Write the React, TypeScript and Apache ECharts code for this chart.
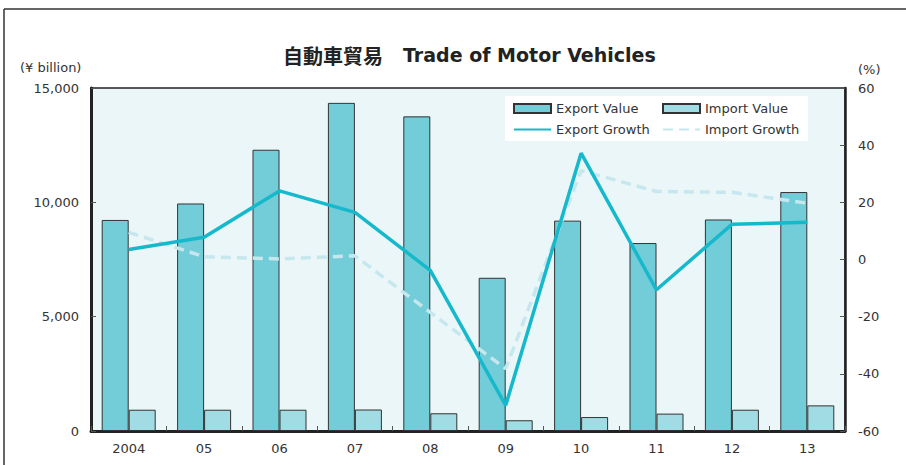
import React, { useEffect, useRef } from "react";
import * as echarts from "echarts";

const categories = ["2004", "05", "06", "07", "08", "09", "10", "11", "12", "13"];
const exportValue = [9230, 9950, 12300, 14350, 13760, 6700, 9200, 8220, 9250, 10450];
const importValue = [930, 930, 930, 940, 775, 470, 610, 760, 930, 1120];
const exportGrowth = [3.5, 7.8, 24.0, 16.5, -3.8, -51.0, 37.2, -10.6, 12.3, 13.0];
const importGrowth = [9.5, 1.0, 0.2, 1.3, -18.5, -38.2, 31.1, 23.8, 23.5, 19.7];
const leftTicks = { min: 0, max: 15000, interval: 5000 };
const rightTicks = { min: -60, max: 60, interval: 20 };

const FONT = "DejaVu Sans";
const TXT = "#333333";

export default function App() {
  const ref = useRef<HTMLDivElement>(null);
  useEffect(() => {
    if (!ref.current) return;
    const chart = echarts.init(ref.current, null, { renderer: "svg" });
    const legendCommon = {
      orient: "vertical",
      itemWidth: 37,
      itemHeight: 9,
      itemGap: 8,
      top: 97,
      z: 5,
      textStyle: { fontSize: 13, color: TXT, fontFamily: FONT },
    };
    const hiddenSymbol = { itemStyle: { opacity: 0 } };
    chart.setOption({
      animation: false,
      textStyle: { fontFamily: FONT },
      title: {
        text: "{a|自動車貿易　}{b|Trade of Motor Vehicles}",
        left: 278,
        top: 40,
        textStyle: {
          rich: {
            a: { fontSize: 20, fontWeight: "bold", color: "#222", fontFamily: "Noto Sans CJK JP" },
            b: { fontSize: 19, fontWeight: "bold", color: "#222", fontFamily: FONT },
          },
        },
      },
      graphic: [
        { type: "line", shape: { x1: 4, y1: 9, x2: 906, y2: 9 }, style: { stroke: "#333", lineWidth: 1.5 } },
        { type: "line", shape: { x1: 4, y1: 9, x2: 4, y2: 465 }, style: { stroke: "#333", lineWidth: 1.5 } },
        { type: "rect", z: 3, shape: { x: 505, y: 96, width: 303, height: 45 }, style: { fill: "#ffffff" } },
        { type: "text", left: 20, top: 61, style: { text: "(¥ billion)", fontSize: 13, fill: TXT, fontFamily: FONT } },
        { type: "text", left: 858, top: 63, style: { text: "(%)", fontSize: 13, fill: TXT, fontFamily: FONT } },
      ],
      legend: [
        {
          ...legendCommon,
          left: 508,
          data: [{ name: "Export Value", icon: "rect" }, { name: "Export Growth", ...hiddenSymbol }],
        },
        {
          ...legendCommon,
          left: 657,
          data: [{ name: "Import Value", icon: "rect" }, { name: "Import Growth", ...hiddenSymbol }],
        },
      ],
      grid: {
        left: 91,
        right: 61,
        top: 88,
        bottom: 34,
        show: true,
        backgroundColor: "#EBF6F8",
        borderColor: "#222",
        borderWidth: 1.5,
      },
      xAxis: {
        type: "category",
        data: categories,
        boundaryGap: true,
        axisLine: { show: true, lineStyle: { color: "#222", width: 3 } },
        axisTick: { show: true, inside: true, length: 5, lineStyle: { color: "#555" } },
        axisLabel: { color: TXT, fontSize: 13, margin: 11, fontFamily: FONT },
      },
      yAxis: [
        {
          type: "value",
          min: leftTicks.min,
          max: leftTicks.max,
          interval: leftTicks.interval,
          splitLine: { show: false },
          axisLine: { show: true, lineStyle: { color: "#222", width: 3 } },
          axisTick: { show: true, inside: true, length: 5, lineStyle: { color: "#555" } },
          axisLabel: {
            color: TXT,
            fontSize: 13,
            margin: 12,
            fontFamily: FONT,
            formatter: (v: number) => v.toLocaleString("en-US"),
          },
        },
        {
          type: "value",
          position: "right",
          min: rightTicks.min,
          max: rightTicks.max,
          interval: rightTicks.interval,
          splitLine: { show: false },
          axisLine: { show: true, lineStyle: { color: "#222", width: 2.5 } },
          axisTick: { show: true, inside: true, length: 5, lineStyle: { color: "#555" } },
          axisLabel: { color: TXT, fontSize: 13, margin: 13, fontFamily: FONT },
        },
      ],
      series: [
        {
          name: "Export Value",
          type: "bar",
          data: exportValue,
          barWidth: 27,
          barGap: "0%",
          itemStyle: { color: "#72CDD8", borderColor: "#333", borderWidth: 1 },
        },
        {
          name: "Import Value",
          type: "bar",
          data: importValue,
          barWidth: 27,
          barGap: "0%",
          itemStyle: { color: "#A1DBE4", borderColor: "#333", borderWidth: 1 },
        },
        {
          name: "Import Growth",
          type: "line",
          yAxisIndex: 1,
          data: importGrowth,
          symbol: "none",
          z: 3,
          itemStyle: { color: "#C6E7EE" },
          lineStyle: { color: "#C6E7EE", width: 3.5, type: [10, 6] },
        },
        {
          name: "Export Growth",
          type: "line",
          yAxisIndex: 1,
          data: exportGrowth,
          symbol: "none",
          z: 4,
          itemStyle: { color: "#16B9CB" },
          lineStyle: { color: "#16B9CB", width: 3.5 },
        },
      ],
    });
    return () => chart.dispose();
  }, []);
  return (
    <div
      ref={ref}
      style={{ position: "absolute", left: 0, top: 0, width: 906, height: 465, background: "#fff" }}
    />
  );
}
